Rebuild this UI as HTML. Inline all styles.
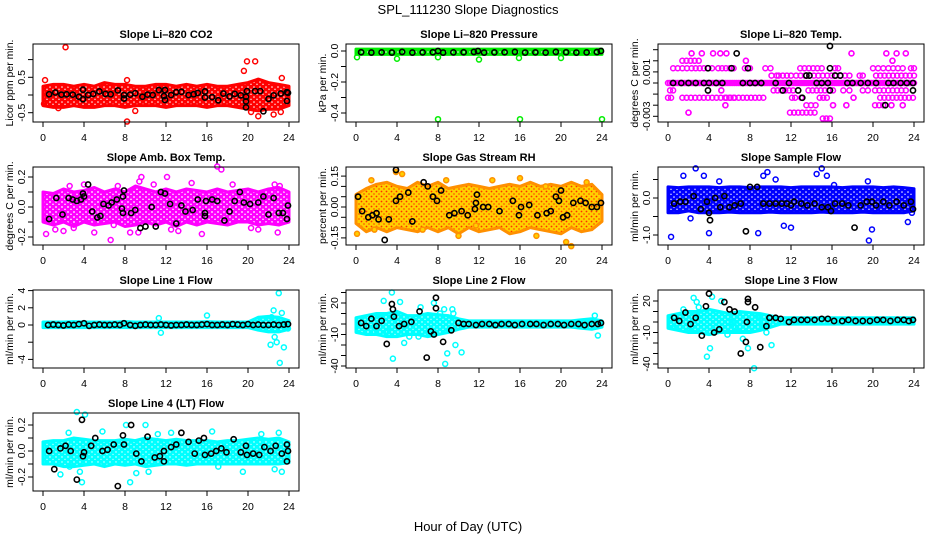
<!DOCTYPE html>
<html><head><meta charset="utf-8"><title>SPL_111230 Slope Diagnostics</title>
<style>
html,body{margin:0;padding:0;background:#fff;}
svg{display:block;font-family:"Liberation Sans",Arial,sans-serif;}
</style></head>
<body>
<svg id="chart" width="936" height="540" viewBox="0 0 936 540" xmlns="http://www.w3.org/2000/svg">
<defs>
<pattern id="pat-red" width="6" height="5" patternUnits="userSpaceOnUse"><rect width="6" height="5" fill="#ff0000"/><circle cx="2" cy="2" r="0.8" fill="#fff"/><circle cx="5" cy="4.3" r="0.7" fill="#fff"/></pattern>
<pattern id="pat-green" width="6" height="5" patternUnits="userSpaceOnUse"><rect width="6" height="5" fill="#00ee00"/><circle cx="2" cy="2" r="0.8" fill="#fff"/><circle cx="5" cy="4.3" r="0.7" fill="#000"/></pattern>
<pattern id="pat-magenta" width="6" height="5" patternUnits="userSpaceOnUse"><rect width="6" height="5" fill="#ff00ff"/><circle cx="2" cy="2" r="0.9" fill="#fff"/><circle cx="5" cy="4.3" r="0.8" fill="#fff"/></pattern>
<pattern id="pat-orange" width="5" height="5" patternUnits="userSpaceOnUse"><rect width="5" height="5" fill="#ffd000"/><circle cx="1.5" cy="1.5" r="0.9" fill="#ff3000"/><circle cx="4" cy="4" r="0.9" fill="#ff6000"/></pattern>
<pattern id="pat-blue" width="6" height="5" patternUnits="userSpaceOnUse"><rect width="6" height="5" fill="#0000ff"/><circle cx="2" cy="2" r="0.8" fill="#fff"/><circle cx="5" cy="4.3" r="0.7" fill="#fff"/></pattern>
<pattern id="pat-cyan" width="6" height="5" patternUnits="userSpaceOnUse"><rect width="6" height="5" fill="#00ffff"/><circle cx="2" cy="2" r="0.7" fill="#fff"/><circle cx="5" cy="4.3" r="0.6" fill="#fff"/></pattern>
</defs>
<text x="468" y="14" text-anchor="middle" font-size="13">SPL_111230  Slope Diagnostics</text>
<text x="468" y="531" text-anchor="middle" font-size="13">Hour of Day (UTC)</text>
</svg>
<script>
// ---- shared axis data ----
const xTicks = [0,4,8,12,16,20,24];
const envHours = [0,1,2,3,4,5,6,7,8,9,10,11,12,13,14,15,16,17,18,19,20,21,22,23,24];

// ---- Panel 1: Li-820 CO2 ----
const co2Low = [-0.3,-0.35,-0.35,-0.3,-0.35,-0.35,-0.3,-0.3,-0.35,-0.3,-0.3,-0.3,-0.35,-0.3,-0.3,-0.3,-0.35,-0.3,-0.3,-0.35,-0.4,-0.45,-0.4,-0.4,-0.3];
const co2High = [0.25,0.3,0.3,0.25,0.3,0.25,0.35,0.3,0.3,0.25,0.25,0.3,0.3,0.25,0.3,0.25,0.3,0.25,0.25,0.3,0.35,0.45,0.35,0.3,0.25];
const co2Outliers = [[2.2,1.35],[8.2,-0.75],[8.2,0.42],[0.2,0.42],[9,-0.45],[19.6,0.68],[19.9,0.95],[20.7,0.95],[21,-0.6],[22.5,-0.55],[23.3,0.48],[23.2,-0.48],[20.3,-0.48],[1.5,-0.37],[0.1,-0.25]];
const co2Black = [[0.6,0.02],[1.2,0.07],[1.8,0.01],[2.3,0.02],[2.9,0.01],[3.5,-0.05],[3.9,0.15],[3.9,-0.12],[4.4,0.0],[4.9,0.03],[5.5,0.1],[6.1,0.03],[6.6,0.02],[7.3,0.13],[7.9,-0.1],[7.9,0.0],[8.5,0.01],[9,0.05],[9.7,-0.05],[10.2,0.01],[10.7,0.0],[11.3,0.14],[11.8,-0.03],[11.9,0.14],[11.9,-0.14],[12.5,0.0],[13,0.08],[13.5,0.09],[14.2,0.0],[14.7,0.02],[15.1,0.06],[15.8,-0.07],[15.8,0.1],[16.5,-0.06],[17.1,-0.15],[17.6,0.04],[18.2,-0.04],[18.7,0.03],[19.3,-0.01],[19.8,-0.05],[19.8,-0.18],[19.8,-0.35],[19.9,0.11],[20.7,0.11],[21.2,0.11],[21.5,-0.46],[22,-0.11],[22.5,-0.01],[23.2,0.04],[23.8,0.08],[23.8,-0.17],[23.9,0.06]];
const co2Ticks = [-0.5,0,0.5,1];
const co2TickLabels = ["-0.5","","0.5",""];

// ---- Panel 2: Li-820 Pressure ----
const presLow = [-0.022,-0.022,-0.022,-0.022,-0.022,-0.022,-0.022,-0.022,-0.022,-0.022,-0.022,-0.022,-0.022,-0.022,-0.022,-0.022,-0.022,-0.022,-0.022,-0.022,-0.022,-0.022,-0.022,-0.022,-0.022];
const presHigh = [0.012,0.012,0.012,0.012,0.012,0.012,0.012,0.012,0.012,0.012,0.012,0.012,0.012,0.012,0.012,0.012,0.012,0.012,0.012,0.012,0.012,0.012,0.012,0.012,0.012];
const presOutliers = [[0.1,-0.04],[4,-0.05],[8,-0.04],[12,-0.055],[15.9,-0.045],[20,-0.045],[8,-0.44],[16,-0.44],[24,-0.44]];
const presBlack = [[0.5,-0.008],[1.5,-0.01],[2.5,-0.009],[3.5,-0.01],[4.5,-0.006],[5.5,-0.01],[6.5,-0.009],[7.5,-0.008],[8,0.0],[8.5,-0.01],[9.5,-0.009],[10.5,-0.008],[11.5,-0.006],[11.9,0.0],[12.5,-0.01],[13.5,-0.009],[14.5,-0.008],[15.5,-0.006],[16.5,-0.01],[17.5,-0.009],[18.5,-0.01],[19.5,-0.006],[20.5,-0.008],[21.5,-0.01],[22.5,-0.009],[23.5,-0.007],[23.9,0.0]];
const presTicks = [0,-0.1,-0.2,-0.3,-0.4];
const presTickLabels = ["0.0","","-0.2","","-0.4"];

// ---- Panel 3: Li-820 Temp (values in 0.001 units) ----
const tempRuns = [[0,24,0],[0.5,2.3,1.33],[2.7,4.3,1.33],[4.9,6.4,1.33],[7.5,8,1.33],[9.5,10,1.33],[12.9,15,1.33],[16.3,16.6,1.33],[20,21,1.33],[21.5,22.9,1.33],[23.7,24,1.33],[10.1,10.6,0.67],[10.8,12,0.67],[12.5,17.7,0.67],[18.7,19,0.67],[20.3,24,0.67],[0.2,0.5,-0.67],[5.2,5.2,-0.67],[10.3,12.2,-0.67],[13.7,16.1,-0.67],[17.1,17.7,-0.67],[19,19.5,-0.67],[20.2,23.2,-0.67],[0,0.3,-1.33],[1.4,6.4,-1.33],[5.7,9.3,-1.33],[12.1,12.4,-1.33],[13,13,-1.33],[14.8,15.5,-1.33],[18.1,18.1,-1.33],[20.7,23.9,-1.33],[5.6,5.6,-2],[13.5,14.4,-2],[16.1,16.1,-2],[17.4,17.4,-2],[20.2,21,-2],[21.8,21.8,-2],[22.9,22.9,-2],[2.0,2.0,-2.67],[11.9,14.3,-2.67],[15.1,15.8,-3.2],[2.3,2.3,2.67],[3.3,3.3,2.67],[4.4,4.4,2.67],[5.1,5.1,2.67],[5.7,5.7,2.67],[17.9,17.9,2.67],[21.3,21.3,2.67],[22.3,22.3,2.67],[23.2,23.2,2.67],[1.4,3.0,2.0],[7.6,7.6,2.0],[21.9,21.9,2.0]];
const tempBlack = [[0.5,0],[1.3,0],[2,0],[2.7,0],[3.5,0],[3.9,1.33],[3.9,-0.67],[4,0],[4.7,0],[5.3,0],[6.2,1.33],[6.7,2.67],[7.3,0],[7.8,1.33],[8,0],[8.5,0],[9.1,0],[10.5,0],[11.2,-0.67],[11.8,0],[12.7,-0.67],[13.1,-1.33],[13.5,0.67],[13.8,0.67],[14.5,0],[15,0],[15.6,0],[15.8,3.33],[15.8,1.33],[15.8,-0.67],[16.3,0.67],[16.8,0.67],[17.5,0],[18,0],[18.8,0],[19.5,0],[20.3,0],[21.2,-2],[21.5,0],[22,0],[22.7,0],[23.3,0],[23.9,0],[23.9,-0.67]];
const tempTicks = [3,2,1,0,-1,-2,-3];
const tempTickLabels = ["","","0.001","","","","-0.003"];

// ---- Panel 4: Amb. Box Temp ----
const ambLow = [-0.1,-0.12,-0.1,-0.13,-0.1,-0.12,-0.11,-0.1,-0.13,-0.12,-0.1,-0.12,-0.1,-0.13,-0.1,-0.12,-0.1,-0.11,-0.12,-0.1,-0.1,-0.12,-0.11,-0.12,-0.1];
const ambHigh = [0.1,0.09,0.12,0.1,0.11,0.13,0.1,0.12,0.1,0.14,0.12,0.1,0.12,0.1,0.12,0.11,0.1,0.12,0.1,0.11,0.12,0.1,0.12,0.13,0.1];
const ambOutliers = [[0.3,-0.18],[1.2,-0.15],[2,-0.16],[3,-0.14],[4,0.15],[5,-0.17],[6.6,-0.22],[6.9,-0.12],[8.5,-0.17],[9.3,-0.17],[9.6,0.2],[9.4,0.17],[10.8,0.15],[12.1,0.2],[12.5,-0.15],[13.2,-0.16],[14.5,0.16],[15.5,-0.18],[17,0.27],[17.4,0.25],[18.5,0.15],[20.3,-0.14],[21,-0.15],[22.6,0.15],[22.9,-0.17],[23.1,0.14],[2.6,0.14],[7.3,0.14]];
const ambBlack = [[0.6,-0.08],[1.3,0.06],[1.9,-0.05],[2.5,0.06],[2.9,0.05],[3.3,0.04],[3.7,0.05],[3.9,0.09],[4,0.07],[4.4,0.15],[4.8,-0.03],[5.3,-0.07],[5.6,-0.06],[5.9,0.02],[6.4,0.01],[6.7,0.03],[7.2,0.05],[7.7,-0.01],[7.8,-0.04],[7.8,0.07],[7.9,0.11],[8.6,-0.04],[9,-0.02],[9.5,-0.14],[10,-0.13],[10.6,0],[11,-0.13],[11.5,0.1],[11.9,0.09],[12.4,0.02],[13,-0.11],[13.5,0.01],[13.9,-0.03],[14.6,-0.02],[15.1,0.05],[15.8,-0.06],[15.8,-0.04],[15.9,0.04],[16.5,0.05],[17,0.04],[17.7,-0.09],[18.2,-0.03],[18.7,0.04],[19.2,0.1],[19.6,0.03],[20.2,0.02],[21,0.03],[21.5,0.07],[22,-0.05],[22.5,0.06],[23,-0.04],[23.4,-0.04],[23.8,-0.08],[23.9,0.01]];
const ambTicks = [0.2,0.1,0,-0.1,-0.2];
const ambTickLabels = ["0.2","","0.0","","-0.2"];

// ---- Panel 5: Gas Stream RH ----
const rhLow = [-0.08,-0.12,-0.1,-0.12,-0.1,-0.11,-0.12,-0.1,-0.12,-0.1,-0.13,-0.1,-0.12,-0.11,-0.1,-0.13,-0.12,-0.1,-0.11,-0.12,-0.13,-0.1,-0.12,-0.11,-0.07];
const rhHigh = [0.06,0.09,0.11,0.12,0.1,0.09,0.12,0.1,0.12,0.09,0.1,0.11,0.1,0.09,0.1,0.11,0.1,0.12,0.1,0.11,0.1,0.12,0.1,0.11,0.06];
const rhOutliers = [[0.1,-0.13],[1.8,-0.11],[1.5,0.13],[3.9,0.17],[4.5,0.16],[6.5,-0.11],[8.8,0.13],[11.7,-0.09],[16,0.14],[17.6,-0.14],[18.5,0.1],[20.5,-0.17],[21,-0.19],[22.5,0.12],[10,-0.14],[13.3,0.13]];
const rhBlack = [[0.2,0.05],[0.6,-0.02],[1.2,-0.05],[1.6,-0.04],[2,-0.03],[2.2,-0.06],[2.8,-0.16],[3.2,-0.06],[3.9,0.03],[3.9,0.18],[4.3,0.05],[5.1,0.07],[5.5,-0.07],[6.6,0.12],[7,0.1],[7.5,0.05],[7.9,0.03],[8.3,0.08],[9.1,-0.04],[9.6,-0.03],[10.3,-0.02],[10.9,-0.04],[11.6,-0.01],[11.7,0.02],[11.8,0.06],[12.4,0.0],[12.9,0.0],[14,-0.02],[15.3,0.03],[15.9,-0.04],[16.1,0.0],[16.9,0.01],[17.7,-0.04],[18.6,-0.03],[19,-0.02],[19.5,0.05],[19.8,0.03],[20,0.08],[20.2,-0.05],[20.6,-0.04],[21.2,0.02],[21.9,0.03],[22.4,0.02],[23,0],[23.5,0.0],[23.9,0.02]];
const rhTicks = [0.15,0.1,0.05,0,-0.05,-0.1,-0.15];
const rhTickLabels = ["0.15","","","0.00","","","-0.15"];

// ---- Panel 6: Sample Flow ----
const sfLow = [-0.4,-0.4,-0.35,-0.4,-0.4,-0.4,-0.38,-0.4,-0.4,-0.4,-0.38,-0.4,-0.4,-0.4,-0.4,-0.38,-0.4,-0.4,-0.4,-0.38,-0.4,-0.4,-0.4,-0.4,-0.35];
const sfHigh = [0.3,0.28,0.3,0.3,0.3,0.28,0.3,0.3,0.28,0.3,0.3,0.3,0.28,0.3,0.3,0.3,0.3,0.28,0.3,0.3,0.3,0.28,0.3,0.28,0.25];
const sfOutliers = [[0.3,-1.05],[2.7,0.8],[1.5,0.6],[3.5,0.6],[4,-0.95],[8.8,-0.95],[9.3,0.6],[9.7,0.7],[10.5,0.5],[11.3,-0.75],[12,-0.8],[14.5,0.65],[15,0.8],[15.5,0.6],[16.2,0.35],[19.5,0.45],[19.6,-1.15],[19.9,-0.85],[23.4,-0.65],[23.8,-0.4],[5,0.45],[2.2,-0.55]];
const sfBlack = [[0.6,-0.15],[1.2,-0.1],[1.7,-0.1],[2.5,0.05],[3.2,-0.3],[3.8,-0.1],[4,-0.4],[4.1,-0.6],[4.6,0.0],[5.1,-0.25],[5.5,0.05],[6,-0.25],[6.5,-0.2],[7.1,-0.15],[7.6,-0.9],[8,0.3],[8.7,0.3],[9.3,-0.15],[9.9,-0.15],[10.5,-0.15],[11.1,-0.15],[11.6,-0.15],[12,-0.2],[12.3,-0.1],[13,-0.15],[13.6,-0.2],[14.3,-0.15],[15,-0.25],[15.6,-0.25],[15.9,-0.35],[16.3,-0.15],[17,-0.15],[17.6,-0.2],[18.2,-0.8],[18.8,-0.2],[19.4,-0.1],[19.9,-0.1],[20.3,-0.2],[21,-0.1],[21.6,-0.2],[22.3,-0.1],[23,-0.2],[23.7,-0.1],[23.9,-0.3]];
const sfTicks = [0.5,0,-0.5,-1];
const sfTickLabels = ["","0.0","","-1.0"];

// ---- Panel 7: Line 1 Flow ----
const l1Low = [-0.3,-0.3,-0.3,-0.3,-0.3,-0.3,-0.3,-0.3,-0.3,-0.3,-0.3,-0.3,-0.3,-0.3,-0.3,-0.3,-0.3,-0.3,-0.3,-0.3,-0.3,-0.6,-0.8,-0.8,-0.5];
const l1High = [0.35,0.35,0.35,0.4,0.35,0.35,0.35,0.35,0.4,0.35,0.35,0.35,0.35,0.35,0.35,0.35,0.4,0.35,0.35,0.35,0.35,0.9,1.0,0.9,0.5];
const l1Outliers = [[11.3,0.8],[11.5,-0.9],[16,1.1],[22.3,0.9],[22.5,1.7],[22.6,-1.4],[22.8,-2],[23,3.7],[23.3,1.4],[23.5,-2.6],[23.1,-4.4],[23.9,-0.4],[22.2,-2.3]];
const l1Black = [[0.5,0],[1,0.05],[1.5,0],[2,-0.05],[2.5,0.05],[3,0],[3.5,0.1],[4,0.2],[4.5,-0.1],[5,0],[5.5,0.05],[6,0],[6.5,0],[7,0.05],[7.5,0],[7.9,0.2],[8.5,0],[9,-0.1],[9.5,0],[10,0.05],[10.5,0],[11,0],[11.5,0.05],[12,0],[12.5,-0.05],[13,0],[13.5,0],[14,0.05],[14.5,0],[15,0],[15.5,0.05],[16,0.1],[16.5,0],[17,0],[17.5,0.05],[18,0],[18.5,0.1],[19,0.05],[19.5,0],[20,0.1],[20.5,0],[21,0.05],[21.5,0],[22,0],[22.5,0.05],[23,0],[23.5,0.05],[23.9,0.1]];
const l1Ticks = [4,2,0,-2,-4];
const l1TickLabels = ["4","2","0","","-4"];

// ---- Panel 8: Line 2 Flow ----
const l2Low = [-8,-10,-10,-12,-12,-10,-10,-12,-10,-8,-5,-3,-3,-3,-3,-3,-3,-3,-3,-3,-3,-3,-4,-5,-3];
const l2High = [6,8,10,10,12,8,8,10,9,8,5,3,3,3,3,3,3,3,3,3,3,3,4,5,3];
const l2Outliers = [[2.7,22],[3.5,30],[4.3,21],[3.6,-33],[4.7,-18],[6.1,-12],[6.3,16],[7.6,20],[8.2,10],[8.6,14],[8.7,-38],[8.9,-28],[9.4,14],[9.7,-20],[10.3,-27],[1.6,-8],[2.1,8],[23.3,8],[23.6,-11],[3.1,-7],[5.2,-12],[9.5,10]];
const l2Black = [[0.5,1],[1,-2],[1.5,5],[2,-2],[2.5,3],[3,-19],[3.5,19],[3.6,14],[3.7,7],[4.2,-2],[4.7,0],[5.4,2],[6.2,12],[6.9,-32],[7.3,-7],[7.6,-10],[7.8,15],[7.8,25],[8.5,-17],[9.3,-6],[10,1],[10.5,0],[11,0],[11.7,-1],[12.3,0],[13,0],[13.6,-1],[14.2,0],[14.9,0],[15.5,-1],[16.2,0],[17,0],[17.6,0],[18.3,-1],[19,0],[19.7,0],[20.3,-1],[21,0],[21.7,0],[22.3,-1],[23,0],[23.6,0],[23.9,1]];
const l2Ticks = [30,20,10,0,-10,-20,-30,-40];
const l2TickLabels = ["","20","","","-10","","","-40"];

// ---- Panel 9: Line 3 Flow ----
const l3Low = [-6,-8,-10,-10,-12,-10,-10,-10,-10,-8,-5,-2,-2,-2,-2,-2,-2,-2,-2,-2,-2,-2,-2,-2,-2];
const l3High = [6,8,10,10,12,10,8,10,9,8,6,4,4,4,4,4,4,4,4,4,4,4,4,4,4];
const l3Outliers = [[2.5,23],[2.8,19],[3,14],[2.3,-6],[3.8,-33],[4.3,24],[4.1,-25],[5.2,20],[5.8,-12],[6.6,-5],[7.3,-16],[7.8,-25],[8.4,-44],[9.2,-4],[9.6,-10],[10.1,-22],[1.5,12],[0.8,-3],[9,5],[6.2,0]];
const l3Black = [[0.6,4],[1.1,1],[1.7,9],[2.2,-2],[2.7,4],[3.3,-13],[3.7,15],[4,27],[4.5,-10],[5,-7],[5.5,19],[6,12],[6.5,10],[7.1,-30],[7.6,-19],[7.7,0],[7.8,19],[7.8,22],[8.5,14],[9,-24],[9.6,-4],[9.9,4],[10.5,4],[11,3],[11.8,0],[12.3,2],[13,2],[13.6,2],[14.3,2],[15,3],[15.6,3],[16.2,1],[17,1],[17.6,2],[18.3,1],[19,1],[19.7,1],[20.4,2],[21,2],[21.7,1],[22.4,2],[23,2],[23.5,1],[23.9,2]];
const l3Ticks = [20,10,0,-10,-20,-30,-40];
const l3TickLabels = ["20","","","-10","","","-40"];

// ---- Panel 10: Line 4 (LT) Flow ----
const l4Low = [-0.1,-0.1,-0.12,-0.12,-0.11,-0.1,-0.12,-0.1,-0.11,-0.1,-0.12,-0.11,-0.1,-0.1,-0.11,-0.1,-0.1,-0.1,-0.1,-0.1,-0.1,-0.1,-0.1,-0.1,-0.09];
const l4High = [0.07,0.08,0.08,0.1,0.09,0.08,0.08,0.08,0.09,0.08,0.1,0.09,0.08,0.09,0.08,0.08,0.08,0.07,0.08,0.08,0.09,0.1,0.09,0.1,0.07];
const l4Outliers = [[3.3,0.3],[4.1,0.28],[3.6,-0.16],[3.8,-0.24],[1.7,-0.18],[5.8,0.15],[8.1,0.2],[8.5,-0.24],[10,0.2],[9.1,-0.17],[19.5,-0.16],[22.6,-0.14],[23.3,-0.16],[2.5,0.14],[16.5,0.15],[2.6,-0.12],[10.3,-0.16],[17.1,-0.12],[11.2,0.13],[12.5,0.14],[21.3,0.13],[23,0.14]];
const l4Black = [[0.6,0],[1.1,-0.14],[1.7,0.02],[2.2,0.04],[2.7,0],[3.3,-0.22],[3.8,0.24],[3.9,-0.04],[4,-0.01],[4.7,0.04],[5.1,0.1],[5.8,0],[6.3,0.01],[6.9,0.05],[7.3,-0.27],[7.8,0.12],[7.9,0.05],[8.6,0.2],[9.1,-0.02],[9.6,-0.08],[10.2,0.11],[10.9,-0.05],[11.4,-0.04],[11.8,-0.08],[11.8,0],[12.5,0.03],[13,0.05],[13.5,0.14],[14.2,0.07],[14.8,-0.02],[15.2,0.08],[15.7,0.1],[15.8,-0.03],[16.4,-0.02],[16.9,0],[17.4,0.02],[17.9,-0.01],[18.6,0.09],[19.3,-0.01],[19.8,0.04],[19.9,-0.03],[20.5,-0.02],[21.1,-0.03],[21.6,0.03],[22.2,0],[22.7,0.04],[23.3,-0.02],[23.8,-0.08],[23.8,0.05],[23.9,0]];
const l4Ticks = [0.2,0.1,0,-0.1,-0.2];
const l4TickLabels = ["0.2","","0.0","","-0.2"];

// ---- layout (positions, not data) ----
const NS = "http://www.w3.org/2000/svg";
const svg = document.getElementById('chart');
const colLeft = [33, 346, 658];
const rowTop = [44, 167, 290, 413];
const boxW = 266, boxH = 78;

const panels = [
  {key:'co2', title:'Slope Li\u2013820 CO2', ylab:'Licor ppm per min.', c:0, r:0, zero:95, ppu:35.4, color:'#ff0000', pat:'pat-red', low:co2Low, high:co2High, out:co2Outliers, blk:co2Black, ticks:co2Ticks, tl:co2TickLabels},
  {key:'pressure', title:'Slope Li\u2013820 Pressure', ylab:'kPa per min.', c:1, r:0, zero:51, ppu:155, color:'#00ee00', pat:'pat-green', low:presLow, high:presHigh, out:presOutliers, blk:presBlack, ticks:presTicks, tl:presTickLabels},
  {key:'temp', title:'Slope Li\u2013820 Temp.', ylab:'degrees C per min.', c:2, r:0, zero:83, ppu:11.1, color:'#ff00ff', runs:tempRuns, blk:tempBlack, ticks:tempTicks, tl:tempTickLabels},
  {key:'amb-box-temp', title:'Slope Amb. Box Temp.', ylab:'degrees C per min.', c:0, r:1, zero:207, ppu:150, color:'#ff00ff', pat:'pat-magenta', low:ambLow, high:ambHigh, out:ambOutliers, blk:ambBlack, ticks:ambTicks, tl:ambTickLabels},
  {key:'gas-stream-rh', title:'Slope Gas Stream RH', ylab:'percent per min.', c:1, r:1, zero:207, ppu:206, color:'#ff9000', pat:'pat-orange', low:rhLow, high:rhHigh, out:rhOutliers, blk:rhBlack, ticks:rhTicks, tl:rhTickLabels, fill:'#ffd000'},
  {key:'sample-flow', title:'Slope Sample Flow', ylab:'ml/min per min.', c:2, r:1, zero:198, ppu:37, color:'#0000ff', pat:'pat-blue', low:sfLow, high:sfHigh, out:sfOutliers, blk:sfBlack, ticks:sfTicks, tl:sfTickLabels},
  {key:'line1-flow', title:'Slope Line 1 Flow', ylab:'ml/min per min.', c:0, r:2, zero:325, ppu:8.6, color:'#00ffff', pat:'pat-cyan', low:l1Low, high:l1High, out:l1Outliers, blk:l1Black, ticks:l1Ticks, tl:l1TickLabels},
  {key:'line2-flow', title:'Slope Line 2 Flow', ylab:'ml/min per min.', c:1, r:2, zero:324, ppu:1.05, color:'#00ffff', pat:'pat-cyan', low:l2Low, high:l2High, out:l2Outliers, blk:l2Black, ticks:l2Ticks, tl:l2TickLabels},
  {key:'line3-flow', title:'Slope Line 3 Flow', ylab:'ml/min per min.', c:2, r:2, zero:322, ppu:1.05, color:'#00ffff', pat:'pat-cyan', low:l3Low, high:l3High, out:l3Outliers, blk:l3Black, ticks:l3Ticks, tl:l3TickLabels},
  {key:'line4-flow', title:'Slope Line 4 (LT) Flow', ylab:'ml/min per min.', c:0, r:3, zero:451, ppu:130, color:'#00ffff', pat:'pat-cyan', low:l4Low, high:l4High, out:l4Outliers, blk:l4Black, ticks:l4Ticks, tl:l4TickLabels}
];

function mk(tag, attrs, parent) {
  const e = document.createElementNS(NS, tag);
  for (const k in attrs) e.setAttribute(k, attrs[k]);
  parent.appendChild(e);
  return e;
}

panels.forEach(p => {
  const L = colLeft[p.c], T = rowTop[p.r], B = T + boxH;
  const xs = h => L + 10 + h * (boxW - 20) / 24;
  const ys = v => p.zero - v * p.ppu;
  const g = mk('g', {}, svg);
  
  

  const t = mk('text', {x: L + boxW / 2, y: T - 6, 'text-anchor': 'middle', 'font-size': '11', 'font-weight': 'bold'}, g);
  t.textContent = p.title;
  
  

  const yt = mk('text', {x: 0, y: 0, 'text-anchor': 'middle', 'font-size': '10.5', transform: `translate(${L - 20},${T + boxH / 2}) rotate(-90)`}, g);
  yt.textContent = p.ylab;
  
  

  const series = mk('g', {}, g);
  
  
  if (p.low) {
    let d = '';
    envHours.forEach((h, i) => { d += (i ? 'L' : 'M') + xs(h).toFixed(1) + ',' + ys(p.high[i]).toFixed(1); });
    for (let i = envHours.length - 1; i >= 0; i--) d += 'L' + xs(envHours[i]).toFixed(1) + ',' + ys(p.low[i]).toFixed(1);
    d += 'Z';
    const env = mk('path', {d: d, fill: 'url(#' + p.pat + ')', stroke: p.color, 'stroke-width': '3', 'stroke-linejoin': 'round'}, series);
    
    
    p.out.forEach(pt => {
      const c = mk('circle', {cx: xs(pt[0]), cy: ys(pt[1]), r: 2.5, fill: p.fill || 'none', stroke: p.color, 'stroke-width': '1.5'}, series);
      
      
    });
  }
  if (p.runs) {
    p.runs.forEach(run => {
      const step = run[2] === 0 ? 0.18 : 0.42;
      const n = Math.max(1, Math.round((run[1] - run[0]) / step));
      for (let k = 0; k <= n; k++) {
        const h = run[0] + (run[1] - run[0]) * (n ? k / n : 0);
        const c = mk('circle', {cx: xs(h), cy: ys(run[2]), r: 2.5, fill: 'none', stroke: p.color, 'stroke-width': '1.5'}, series);
        
        
      }
    });
  }
  const blk = mk('g', {}, g);
  
  
  p.blk.forEach(pt => {
    const c = mk('circle', {cx: xs(pt[0]), cy: ys(pt[1]), r: 2.6, fill: 'none', stroke: '#000', 'stroke-width': '1.6'}, blk);
    
    
  });

  const box = mk('rect', {x: L, y: T, width: boxW, height: boxH, fill: 'none', stroke: '#000', 'stroke-width': '1'}, g);
  
  

  const xa = mk('g', {}, g);
  
  
  mk('line', {x1: xs(0), x2: xs(24), y1: B, y2: B, stroke: '#000'}, xa);
  xTicks.forEach(v => {
    mk('line', {x1: xs(v), x2: xs(v), y1: B, y2: B + 5, stroke: '#000'}, xa);
    const lt = mk('text', {x: xs(v), y: B + 19, 'text-anchor': 'middle', 'font-size': '10.5'}, xa);
    lt.textContent = String(v);
    
    
  });

  const ya = mk('g', {}, g);
  
  
  p.ticks.forEach((v, i) => {
    const y = ys(v);
    mk('line', {x1: L - 5, x2: L, y1: y, y2: y, stroke: '#000'}, ya);
    if (p.tl[i]) {
      const lt = mk('text', {x: 0, y: 0, 'text-anchor': 'middle', 'font-size': '10.5', transform: `translate(${L - 8},${y}) rotate(-90)`}, ya);
      lt.textContent = p.tl[i];
      
      
    }
  });
});
</script>
</body></html>
